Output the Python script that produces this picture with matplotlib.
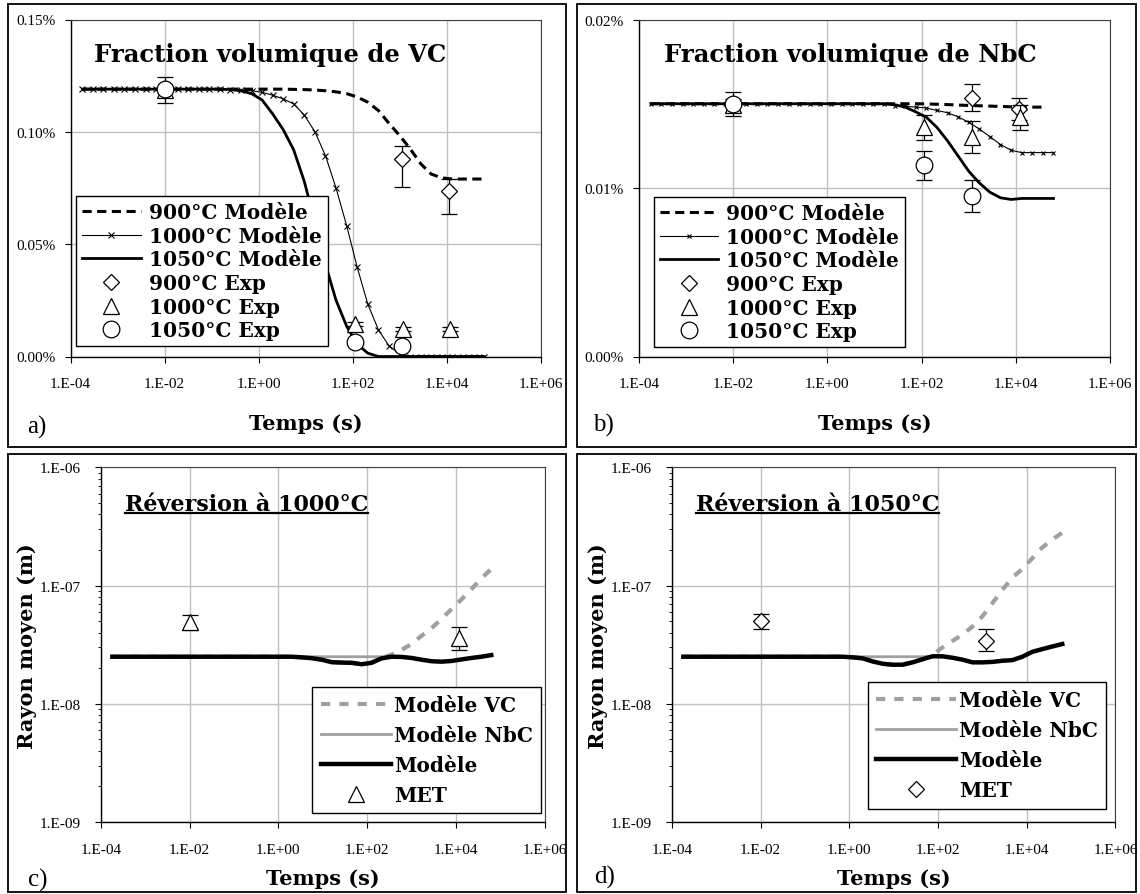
import math
import matplotlib
matplotlib.use('Agg')
import matplotlib.pyplot as plt
from matplotlib.patches import Rectangle
from matplotlib.ticker import FixedLocator, FuncFormatter, NullLocator, LogLocator

plt.rcParams['font.family'] = 'DejaVu Serif'
TICK_FONT = 'Liberation Serif'

# common model time grid (s)
t_model = [1.8e-4, 3.0e-4, 5.0e-4, 8.4e-4, 1.4e-3, 2.4e-3, 4.0e-3, 6.7e-3, 1.1e-2, 1.9e-2,
           3.2e-2, 5.3e-2, 8.9e-2, 0.15, 0.25, 0.42, 0.71, 1.19, 2.0, 3.35,
           5.6, 9.4, 15.8, 26.6, 44.7, 75, 126, 211, 355, 596,
           1000, 1680, 2820, 4730, 7940, 13300, 22400, 37600, 63100]

# a) VC volume fraction (%)
vc_900 = [0.119, 0.119, 0.119, 0.119, 0.119, 0.119, 0.119, 0.119, 0.119, 0.119,
          0.119, 0.119, 0.119, 0.119, 0.119, 0.119, 0.119, 0.119, 0.119, 0.119,
          0.1189, 0.1188, 0.1186, 0.1183, 0.1178, 0.1170, 0.1155, 0.1132, 0.1095, 0.1038,
          0.0984, 0.0925, 0.0858, 0.0812, 0.0795, 0.0790, 0.0790, 0.0790, 0.0790]
vc_1000 = [0.119, 0.119, 0.119, 0.119, 0.119, 0.119, 0.119, 0.119, 0.119, 0.119,
           0.119, 0.119, 0.119, 0.119, 0.1188, 0.1186, 0.1183, 0.1176, 0.1163, 0.1147,
           0.1124, 0.1075, 0.1001, 0.0894, 0.0749, 0.0583, 0.0397, 0.0234, 0.0119, 0.0048,
           0.0011, 0.0, 0.0, 0.0, 0.0, 0.0, 0.0, 0.0, 0.0]
vc_1050 = [0.119, 0.119, 0.119, 0.119, 0.119, 0.119, 0.119, 0.119, 0.119, 0.119,
           0.119, 0.119, 0.119, 0.119, 0.1188, 0.1183, 0.1170, 0.1142, 0.1080, 0.1010,
           0.0920, 0.0780, 0.0600, 0.0410, 0.0250, 0.0135, 0.0055, 0.0015, 0.0, 0.0,
           0.0, 0.0, 0.0, 0.0, 0.0, 0.0, 0.0, 0.0, 0.0]
vc_exp900_t = [1150, 11500]
vc_exp900 = [0.0879, 0.0738]
vc_exp900_lo = [0.0126, 0.0104]
vc_exp900_hi = [0.0060, 0.0052]
vc_exp1000_t = [0.01, 115, 1200, 12000]
vc_exp1000 = [0.1185, 0.0145, 0.0122, 0.0122]
vc_exp1000_err = [0.0057, 0.0008, 0.0008, 0.0008]
vc_exp1050_t = [0.01, 115, 1150]
vc_exp1050 = [0.119, 0.0063, 0.0048]

# b) NbC volume fraction (%)
nb_900 = [0.0150, 0.0150, 0.0150, 0.0150, 0.0150, 0.0150, 0.0150, 0.0150, 0.0150, 0.0150,
          0.0150, 0.0150, 0.0150, 0.0150, 0.0150, 0.0150, 0.0150, 0.0150, 0.0150, 0.0150,
          0.0150, 0.0150, 0.0150, 0.0150, 0.0150, 0.0150, 0.01499, 0.01497, 0.01495, 0.01492,
          0.0149, 0.01488, 0.01486, 0.01484, 0.01482, 0.0148, 0.0148, 0.0148]
nb_1000 = [0.0150, 0.0150, 0.0150, 0.0150, 0.0150, 0.0150, 0.0150, 0.0150, 0.0150, 0.0150,
           0.0150, 0.0150, 0.0150, 0.0150, 0.0150, 0.0150, 0.0150, 0.0150, 0.0150, 0.0150,
           0.0150, 0.0150, 0.0150, 0.01488, 0.01485, 0.0148, 0.01475, 0.0146, 0.01447, 0.01422,
           0.0139, 0.0135, 0.01305, 0.01258, 0.01224, 0.0121, 0.0121, 0.0121, 0.0121]
nb_1050 = [0.0150, 0.0150, 0.0150, 0.0150, 0.0150, 0.0150, 0.0150, 0.0150, 0.0150, 0.0150,
           0.0150, 0.0150, 0.0150, 0.0150, 0.0150, 0.0150, 0.0150, 0.0150, 0.0150, 0.0150,
           0.0150, 0.0150, 0.0150, 0.01495, 0.0148, 0.01452, 0.0142, 0.0136, 0.0128, 0.0119,
           0.0110, 0.0103, 0.00975, 0.00942, 0.00932, 0.00938, 0.00938, 0.00938, 0.00938]
nb_exp900_t = [1150, 11500]
nb_exp900 = [0.01536, 0.01471]
nb_exp900_err = [0.0008, 0.00065]
nb_exp1000_t = [0.01, 115, 1200, 12500]
nb_exp1000 = [0.0149, 0.0136, 0.0130, 0.0142]
nb_exp1000_err = [0.0004, 0.00073, 0.00095, 0.00075]
nb_exp1050_t = [0.01, 115, 1200]
nb_exp1050 = [0.0150, 0.01135, 0.00954]
nb_exp1050_err = [0.0007, 0.00085, 0.00095]

# c) mean radius at 1000 C (m)
r1000_vc = [2.5e-8, 2.5e-8, 2.5e-8, 2.5e-8, 2.5e-8, 2.5e-8, 2.5e-8, 2.5e-8, 2.5e-8, 2.5e-8,
            2.5e-8, 2.5e-8, 2.5e-8, 2.5e-8, 2.5e-8, 2.5e-8, 2.5e-8, 2.5e-8, 2.5e-8, 2.47e-8,
            2.43e-8, 2.36e-8, 2.25e-8, 2.23e-8, 2.22e-8, 2.16e-8, 2.22e-8, 2.45e-8, 2.6e-8, 2.85e-8,
            3.2e-8, 3.75e-8, 4.35e-8, 5.2e-8, 6.3e-8, 7.6e-8, 9.3e-8, 1.15e-7, 1.38e-7]
r1000_nb = [2.5e-8, 2.5e-8, 2.5e-8, 2.5e-8, 2.5e-8, 2.5e-8, 2.5e-8, 2.5e-8, 2.5e-8, 2.5e-8,
            2.5e-8, 2.5e-8, 2.5e-8, 2.5e-8, 2.5e-8, 2.5e-8, 2.5e-8, 2.5e-8, 2.5e-8, 2.5e-8,
            2.5e-8, 2.5e-8, 2.5e-8, 2.5e-8, 2.5e-8, 2.5e-8, 2.5e-8, 2.5e-8, 2.5e-8, 2.49e-8,
            2.44e-8, 2.36e-8, 2.29e-8, 2.27e-8, 2.3e-8, 2.37e-8, 2.44e-8, 2.5e-8, 2.58e-8]
r1000_mod = [2.5e-8, 2.5e-8, 2.5e-8, 2.5e-8, 2.5e-8, 2.5e-8, 2.5e-8, 2.5e-8, 2.5e-8, 2.5e-8,
             2.5e-8, 2.5e-8, 2.5e-8, 2.5e-8, 2.5e-8, 2.5e-8, 2.5e-8, 2.5e-8, 2.5e-8, 2.47e-8,
             2.43e-8, 2.36e-8, 2.25e-8, 2.23e-8, 2.22e-8, 2.16e-8, 2.22e-8, 2.42e-8, 2.5e-8, 2.49e-8,
             2.44e-8, 2.36e-8, 2.29e-8, 2.27e-8, 2.3e-8, 2.37e-8, 2.44e-8, 2.5e-8, 2.58e-8]
r1000_met_t = [0.01, 12000]
r1000_met = [4.87e-8, 3.59e-8]
r1000_met_lo = [0.65e-8, 0.73e-8]
r1000_met_hi = [0.78e-8, 0.83e-8]

# d) mean radius at 1050 C (m)
r1050_vc = [2.5e-8, 2.5e-8, 2.5e-8, 2.5e-8, 2.5e-8, 2.5e-8, 2.5e-8, 2.5e-8, 2.5e-8, 2.5e-8,
            2.5e-8, 2.5e-8, 2.5e-8, 2.5e-8, 2.5e-8, 2.5e-8, 2.5e-8, 2.47e-8, 2.42e-8, 2.28e-8,
            2.18e-8, 2.14e-8, 2.14e-8, 2.24e-8, 2.38e-8, 2.6e-8, 3.0e-8, 3.4e-8, 3.85e-8, 4.5e-8,
            5.5e-8, 7.1e-8, 9.2e-8, 1.17e-7, 1.38e-7, 1.7e-7, 2.1e-7, 2.45e-7, 2.8e-7]
r1050_nb = [2.5e-8, 2.5e-8, 2.5e-8, 2.5e-8, 2.5e-8, 2.5e-8, 2.5e-8, 2.5e-8, 2.5e-8, 2.5e-8,
            2.5e-8, 2.5e-8, 2.5e-8, 2.5e-8, 2.5e-8, 2.5e-8, 2.5e-8, 2.5e-8, 2.5e-8, 2.5e-8,
            2.5e-8, 2.5e-8, 2.5e-8, 2.5e-8, 2.5e-8, 2.52e-8, 2.52e-8, 2.45e-8, 2.36e-8, 2.24e-8,
            2.24e-8, 2.26e-8, 2.31e-8, 2.34e-8, 2.5e-8, 2.75e-8, 2.9e-8, 3.05e-8, 3.2e-8]
r1050_mod = [2.5e-8, 2.5e-8, 2.5e-8, 2.5e-8, 2.5e-8, 2.5e-8, 2.5e-8, 2.5e-8, 2.5e-8, 2.5e-8,
             2.5e-8, 2.5e-8, 2.5e-8, 2.5e-8, 2.5e-8, 2.5e-8, 2.5e-8, 2.47e-8, 2.42e-8, 2.28e-8,
             2.18e-8, 2.14e-8, 2.14e-8, 2.24e-8, 2.38e-8, 2.52e-8, 2.52e-8, 2.45e-8, 2.36e-8, 2.24e-8,
             2.24e-8, 2.26e-8, 2.31e-8, 2.34e-8, 2.5e-8, 2.75e-8, 2.9e-8, 3.05e-8, 3.2e-8]
r1050_met_t = [0.01, 1200]
r1050_met = [4.99e-8, 3.42e-8]
r1050_met_lo = [0.69e-8, 0.65e-8]
r1050_met_hi = [0.81e-8, 0.88e-8]

x_ticks = [1e-4, 1e-2, 1e0, 1e2, 1e4, 1e6]

W, H = 1140, 895
fig = plt.figure(figsize=(W / 100, H / 100), dpi=100)


def px_axes(left, top, right, bottom):
    return fig.add_axes([left / W, 1 - bottom / H, (right - left) / W, (bottom - top) / H])


def panel_box(left, top, right, bottom):
    fig.add_artist(Rectangle((left / W, 1 - bottom / H), (right - left) / W, (bottom - top) / H,
                             transform=fig.transFigure, fill=False, ec='black', lw=1.3))


def exp_fmt(v, pos):
    e = int(round(math.log10(v)))
    return '1.E%+03d' % e


def style_axes(ax, xlabelpad, ypad):
    ax.set_xscale('log')
    ax.set_xlim(1e-4, 1e6)
    ax.xaxis.set_major_locator(FixedLocator(x_ticks))
    ax.xaxis.set_minor_locator(NullLocator())
    ax.xaxis.set_major_formatter(FuncFormatter(exp_fmt))
    ax.grid(True, which='major', color='#c0c0c0', lw=1.0)
    ax.set_axisbelow(True)
    for s in ['top', 'right']:
        ax.spines[s].set_color('#404040')
        ax.spines[s].set_linewidth(0.8)
    for s in ['left', 'bottom']:
        ax.spines[s].set_color('black')
        ax.spines[s].set_linewidth(1.0)
    ax.tick_params(axis='both', which='major', direction='out', length=4, width=0.8,
                   labelsize=11, top=False, right=False)
    ax.tick_params(axis='x', pad=11)
    ax.tick_params(axis='y', pad=ypad)
    for lab in ax.get_xticklabels() + ax.get_yticklabels():
        lab.set_fontfamily(TICK_FONT)
    ax.set_xlabel('Temps (s)', fontsize=15, fontweight='bold', labelpad=xlabelpad)


def frac_panel(ax, y900, y1000, y1050, ymax, yticks, title, title_x, ms_x, leg_box,
               e900, e1000, e1050):
    ax.plot(t_model[:len(y900)], y900, color='black', lw=2.2, dashes=(3, 1.8),
            label='900°C Modèle')
    ax.plot(t_model, y1000, color='black', lw=0.8, marker='x', ms=ms_x, mew=0.8,
            label='1000°C Modèle')
    ax.plot(t_model, y1050, color='black', lw=2.0, label='1050°C Modèle')
    t9, v9, err9 = e900
    t10, v10, err10 = e1000
    t15, v15, err15 = e1050
    ax.errorbar(t9, v9, yerr=err9, fmt='none', ecolor='black', elinewidth=0.9, capsize=6, capthick=0.9)
    ax.plot(t9, v9, ls='none', marker='D', ms=8.5, mfc='white', mec='black', mew=0.9,
            label='900°C Exp')
    ax.errorbar(t10, v10, yerr=err10, fmt='none', ecolor='black', elinewidth=0.9, capsize=6, capthick=0.9)
    ax.plot(t10, v10, ls='none', marker='^', ms=12, mfc='white', mec='black', mew=0.9,
            label='1000°C Exp')
    if err15 is not None:
        ax.errorbar(t15, v15, yerr=err15, fmt='none', ecolor='black', elinewidth=0.9, capsize=6, capthick=0.9)
    ax.plot(t15, v15, ls='none', marker='o', ms=12, mfc='white', mec='black', mew=0.9,
            label='1050°C Exp')
    ax.set_ylim(0, ymax)
    ax.yaxis.set_major_locator(FixedLocator(yticks))
    ax.yaxis.set_major_formatter(FuncFormatter(lambda v, p: '%.2f%%' % v))
    style_axes(ax, 16, 7)
    ax.text(title_x, 0.898, title, transform=ax.transAxes, ha='center', va='center',
            fontsize=17.5, fontweight='bold')
    leg = ax.legend(loc='lower left', bbox_to_anchor=leg_box, borderaxespad=0, frameon=True,
                    fancybox=False, framealpha=1, edgecolor='black', borderpad=0.3,
                    labelspacing=0.18, handlelength=2.9, handletextpad=0.4,
                    prop={'weight': 'bold', 'size': 14.5})
    leg.get_frame().set_linewidth(1.0)


def radius_panel(ax, vc, nb, mod, met_t, met, lo, hi, met_marker, met_ms, title, leg_box,
                 hlen):
    ax.plot(t_model, vc, color='#a0a0a0', lw=3.0, dashes=(2.2, 2.2), label='Modèle VC')
    ax.plot(t_model, nb, color='#a0a0a0', lw=2.0, label='Modèle NbC')
    ax.plot(t_model, mod, color='black', lw=3.2, label='Modèle')
    ax.errorbar(met_t, met, yerr=[lo, hi], fmt='none', ecolor='black', elinewidth=0.9,
                capsize=6, capthick=0.9)
    ax.plot(met_t, met, ls='none', marker=met_marker, ms=met_ms, mfc='white', mec='black',
            mew=0.9, label='MET')
    ax.set_yscale('log')
    ax.set_ylim(1e-9, 1e-6)
    ax.yaxis.set_major_locator(FixedLocator([1e-9, 1e-8, 1e-7, 1e-6]))
    ax.yaxis.set_minor_locator(LogLocator(base=10, subs=[2, 3, 4, 5, 6, 7, 8, 9]))
    ax.yaxis.set_major_formatter(FuncFormatter(exp_fmt))
    ax.tick_params(axis='y', which='minor', direction='out', length=2.5, width=0.6,
                   labelleft=False, right=False)
    style_axes(ax, 9, 10.5)
    ax.set_ylabel('Rayon moyen (m)', fontsize=15, fontweight='bold', labelpad=2)
    txt = ax.text(0.053, 0.88, title, transform=ax.transAxes, ha='left', va='baseline',
                  fontsize=16, fontweight='bold')
    fig.canvas.draw()
    bb = txt.get_window_extent()
    inv = ax.transAxes.inverted()
    x0, _ = inv.transform((bb.x0, bb.y0))
    x1, _ = inv.transform((bb.x1, bb.y0))
    ax.plot([x0, x1], [0.872, 0.872], transform=ax.transAxes, color='black', lw=1.6,
            clip_on=False)
    leg = ax.legend(loc='lower right', bbox_to_anchor=leg_box, borderaxespad=0, frameon=True,
                    fancybox=False, framealpha=1, edgecolor='black', borderpad=0.4,
                    labelspacing=0.5, handlelength=hlen, handletextpad=0.15,
                    prop={'weight': 'bold', 'size': 14.5})
    leg.get_frame().set_linewidth(1.0)


# panel borders
panel_box(8, 5, 566, 448)
panel_box(577, 5, 1136, 448)
panel_box(8, 455, 566, 893)
panel_box(577, 455, 1136, 893)

ax_a = px_axes(70.5, 20.5, 540.5, 357.5)
frac_panel(ax_a, vc_900, vc_1000, vc_1050, 0.15, [0, 0.05, 0.10, 0.15],
           'Fraction volumique de VC', 0.424, 5, (0.012, 0.03),
           (vc_exp900_t, vc_exp900, [vc_exp900_lo, vc_exp900_hi]),
           (vc_exp1000_t, vc_exp1000, vc_exp1000_err),
           (vc_exp1050_t, vc_exp1050, None))

ax_b = px_axes(639, 20.5, 1110, 357.5)
frac_panel(ax_b, nb_900, nb_1000, nb_1050, 0.02, [0, 0.01, 0.02],
           'Fraction volumique de NbC', 0.449, 3.5, (0.031, 0.027),
           (nb_exp900_t, nb_exp900, nb_exp900_err),
           (nb_exp1000_t, nb_exp1000, nb_exp1000_err),
           (nb_exp1050_t, nb_exp1050, nb_exp1050_err))

ax_c = px_axes(101, 468.3, 544.5, 823)
radius_panel(ax_c, r1000_vc, r1000_nb, r1000_mod, r1000_met_t, r1000_met,
             r1000_met_lo, r1000_met_hi, '^', 11, 'Réversion à 1000°C', (0.992, 0.024), 3.5)

ax_d = px_axes(672, 468.3, 1115.5, 823)
radius_panel(ax_d, r1050_vc, r1050_nb, r1050_mod, r1050_met_t, r1050_met,
             r1050_met_lo, r1050_met_hi, 'D', 8, 'Réversion à 1050°C', (0.979, 0.038), 4.0)

for lab, x, y in [('a)', 37, 427), ('b)', 603, 425), ('c)', 38, 880), ('d)', 605, 877)]:
    fig.text(x / W, 1 - y / H, lab, ha='center', va='center', fontsize=18, family=TICK_FONT)

fig.savefig('out.png', dpi=100)
